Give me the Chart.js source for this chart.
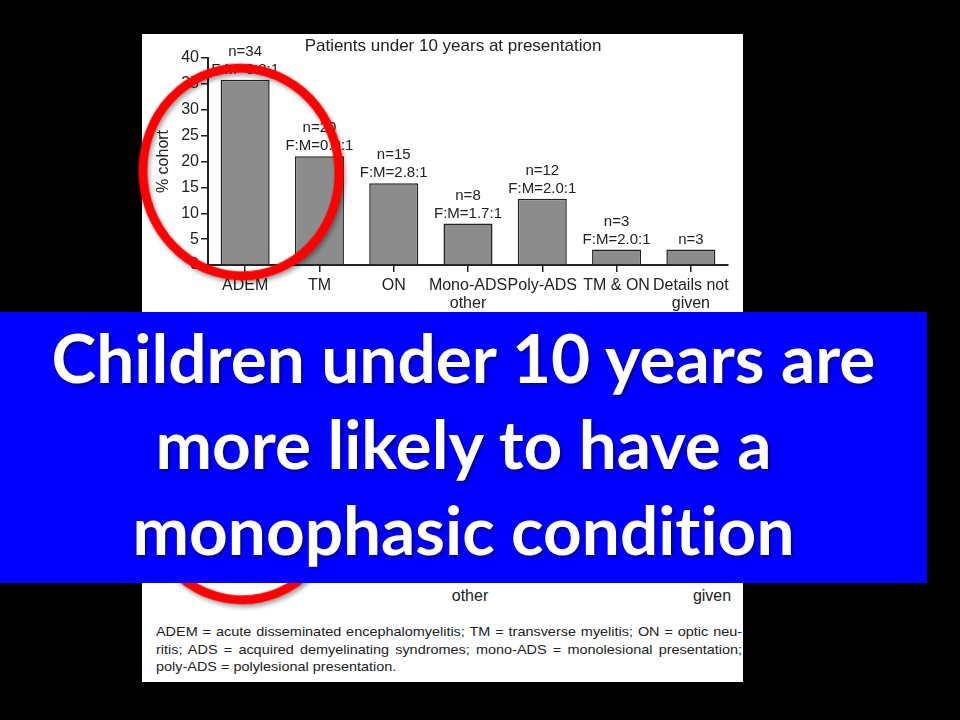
<!DOCTYPE html>
<html>
<head>
<meta charset="utf-8">
<script src="https://cdn.jsdelivr.net/npm/chart.js@4.4.1/dist/chart.umd.min.js"></script>
<style>
  body { margin: 0; background: #000; width: 960px; height: 720px; overflow: hidden; position: relative; }
  #panel { position: absolute; left: 142px; top: 34px; width: 601px; height: 648px; background: #fff; }
  #chartBox { position: absolute; left: 142px; top: 34px; width: 601px; height: 290px; z-index: 1; }
  #figTitle { position: absolute; left: 253px; top: 36px; width: 400px; text-align: center;
    font: 17px "Liberation Sans", Arial, sans-serif; line-height: 20px; color: #222; z-index: 2; }
  .lowLabel { position: absolute; top: 586px; width: 100px; text-align: center;
    font: 16px "Liberation Sans", Arial, sans-serif; line-height: 20px; color: #222; }
  #caption { position: absolute; left: 156px; top: 623px; width: 528px; transform: scaleX(1.11); transform-origin: 0 0;
    font: 13px "Liberation Sans", Arial, sans-serif; line-height: 17.5px; color: #222; }
  #caption div { text-align: justify; text-align-last: justify; white-space: nowrap; }
  #caption div.last { text-align-last: left; }
  #marks { position: absolute; left: 0; top: 0; z-index: 3; pointer-events: none; }
  #banner { position: absolute; left: 0; top: 312px; width: 927px; height: 271px; background: #0000ff; z-index: 4; }
  #banner div { position: absolute; left: 0; top: 2px; width: 927px; text-align: center; color: #fff;
    font-family: Lato, "Open Sans", sans-serif; font-weight: 700; font-size: 67.5px; line-height: 86px;
    font-variant-ligatures: none; font-feature-settings: "liga" 0;
    text-shadow: 2px 2px 3px rgba(0,0,0,0.45); }
</style>
</head>
<body>
<div id="panel"></div>
<div id="figTitle">Patients under 10 years at presentation</div>
<div id="chartBox"><canvas id="bar-Chart"></canvas></div>
<div class="lowLabel" style="left:420px">other</div>
<div class="lowLabel" style="left:662px">given</div>
<div id="caption">
  <div>ADEM = acute disseminated encephalomyelitis; TM = transverse myelitis; ON = optic neu-</div>
  <div>ritis; ADS = acquired demyelinating syndromes; mono-ADS = monolesional presentation;</div>
  <div class="last">poly-ADS = polylesional presentation.</div>
</div>
<svg id="marks" width="960" height="720">
  <g fill="none" stroke="#f00" stroke-width="9" style="filter: drop-shadow(2px 3px 2px rgba(0,0,0,0.35))">
    <ellipse cx="241" cy="172" rx="98" ry="104" transform="rotate(-6 241 172)"/>
    <ellipse cx="241" cy="496" rx="98" ry="104" transform="rotate(-6 241 496)"/>
  </g>
</svg>
<div id="banner"><div>Children under 10 years are<br>more likely to have a<br>monophasic condition</div></div>

<script>
const categories = [["ADEM"], ["TM"], ["ON"], ["Mono-ADS", "other"], ["Poly-ADS"], ["TM & ON"], ["Details not", "given"]];
const percentCohort = [35.8, 21, 15.8, 8, 12.8, 3, 3];
const nLabels = ["n=34", "n=20", "n=15", "n=8", "n=12", "n=3", "n=3"];
const ratioLabels = ["F:M=0.8:1", "F:M=0.9:1", "F:M=2.8:1", "F:M=1.7:1", "F:M=2.0:1", "F:M=2.0:1", ""];

const textColor = "#222";
const fontFamily = "'Liberation Sans', Arial, sans-serif";

// n= and F:M= text above each bar
const barNotes = {
  id: "barNotes",
  afterDatasetsDraw(chart) {
    const ctx = chart.ctx;
    ctx.save();
    ctx.font = "15px " + fontFamily;
    ctx.fillStyle = textColor;
    ctx.textAlign = "center";
    ctx.textBaseline = "middle";
    chart.getDatasetMeta(0).data.forEach((bar, i) => {
      if (ratioLabels[i]) {
        ctx.fillText(ratioLabels[i], bar.x, bar.y - 10);
        ctx.fillText(nLabels[i], bar.x, bar.y - 28);
      } else {
        ctx.fillText(nLabels[i], bar.x, bar.y - 10);
      }
    });
    ctx.restore();
  },
};

const ctx = document.getElementById("bar-Chart");
const barChart = new Chart(ctx, {
  type: "bar",
  data: {
    labels: categories,
    datasets: [
      {
        data: percentCohort,
        backgroundColor: "#8c8c8c",
        borderColor: "#222",
        borderWidth: 1.5,
        categoryPercentage: 1,
        barPercentage: 0.66,
      },
    ],
  },
  options: {
    responsive: true,
    maintainAspectRatio: false,
    animation: false,
    layout: { padding: { top: 24, right: 15, left: 0, bottom: 0 } },
    plugins: {
      legend: { display: false },
      tooltip: { enabled: false },
    },
    scales: {
      x: {
        offset: true,
        grid: { drawOnChartArea: false, drawTicks: true, tickLength: 7, color: textColor, lineWidth: 1.5, offset: false },
        border: { color: textColor, width: 2 },
        ticks: { color: textColor, font: { family: fontFamily, size: 16, lineHeight: 1.12 }, padding: 5, maxRotation: 0, autoSkip: false },
        afterFit: (s) => { s.height = 59; },
      },
      y: {
        min: 0,
        max: 40,
        grid: { drawOnChartArea: false, drawTicks: true, tickLength: 7, color: textColor, lineWidth: 1.5 },
        border: { color: textColor, width: 2 },
        ticks: { stepSize: 5, color: textColor, font: { family: fontFamily, size: 16 }, padding: 2 },
        title: { display: true, text: "% cohort", color: textColor, font: { family: fontFamily, size: 16 }, padding: { top: 12, bottom: 0 } },
        afterFit: (s) => { s.width = 66; },
      },
    },
  },
  plugins: [barNotes],
});
</script>
</body>
</html>
